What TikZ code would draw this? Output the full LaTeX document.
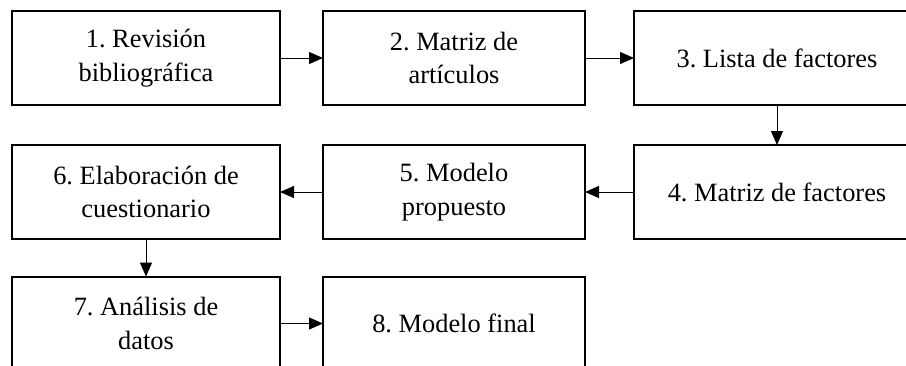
\documentclass[tikz,border=0pt]{standalone}
\usepackage{fontspec}
\setmainfont{Liberation Serif}
\usetikzlibrary{positioning,arrows.meta}
\tikzset{
  paso/.style={draw,line width=1pt,minimum width=134pt,minimum height=47pt,
    align=center,inner sep=0pt,outer sep=0pt,
    font=\fontsize{13.2}{16.7}\selectfont},
  pasocorto/.style={paso,minimum width=131pt},
  pasoancho/.style={paso,minimum width=143pt},
  flecha/.style={line width=0.5pt,-{Triangle[length=7pt,width=6pt]}}
}
\frenchspacing
\begin{document}
\begin{tikzpicture}
      \useasboundingbox (0,0) rectangle (453pt,-182.5pt);
      \clip (0,0) rectangle (453pt,-182.5pt);
      \node[paso] (revision) at (73pt,-29pt) {1. Revisión\\bibliográfica};
      \node[pasocorto,right=21.5pt of revision] (matriz) {2. Matriz de\\artículos};
      \node[pasoancho,right=24.5pt of matriz] (lista) {3. Lista de factores};
      \node[pasoancho,below=20pt of lista] (matrizf) {4. Matriz de factores};
      \node[pasocorto,below=20pt of matriz] (modelo) {5. Modelo\\propuesto};
      \node[paso,below=20pt of revision] (cuestionario) {6. Elaboración de\\cuestionario};
      \node[paso,below=18.75pt of cuestionario] (analisis) {7. Análisis de\\datos};
      \node[pasocorto,right=21.5pt of analisis] (final) {8. Modelo final};
      \draw[flecha] (revision) -- (matriz);
      \draw[flecha] (matriz) -- (lista);
      \draw[flecha] (lista) -- (matrizf);
      \draw[flecha] (matrizf) -- (modelo);
      \draw[flecha] (modelo) -- (cuestionario);
      \draw[flecha] (cuestionario) -- (analisis);
      \draw[flecha] (analisis) -- (final);
    \end{tikzpicture}
\end{document}
